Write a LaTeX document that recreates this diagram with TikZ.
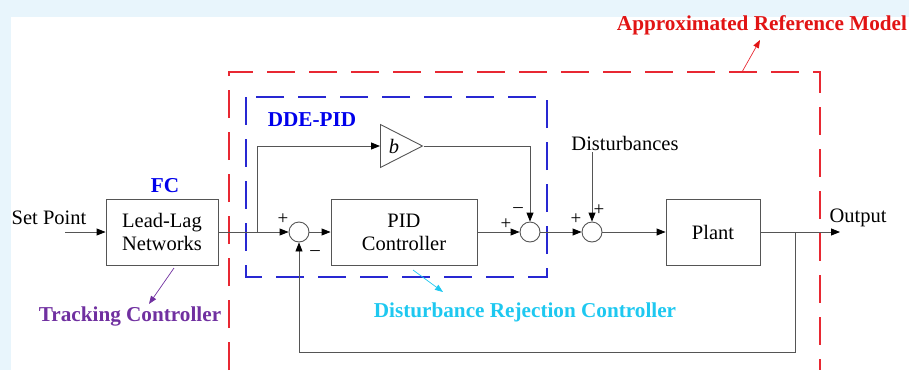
\documentclass[tikz,border=0pt]{standalone}
\usepackage{fontspec}
\setmainfont{Liberation Serif}
\usetikzlibrary{arrows.meta,shapes.geometric}
\definecolor{bgblue}{RGB}{232,245,252}
\definecolor{linegray}{RGB}{85,85,85}
\definecolor{redbox}{RGB}{232,40,50}
\definecolor{redtxt}{RGB}{225,20,20}
\definecolor{bluebox}{RGB}{40,40,210}
\definecolor{bluetxt}{RGB}{0,0,235}
\definecolor{purptxt}{RGB}{112,48,160}
\definecolor{cyantxt}{RGB}{30,200,240}
\tikzset{
  blk/.style={draw=linegray, line width=0.9pt, minimum width=#1, minimum height=66, inner sep=0pt, align=center, font=\fontsize{20.5}{23}\selectfont},
  sumc/.style={draw=linegray, line width=0.9pt, circle, minimum size=20, inner sep=0pt},
  wire/.style={draw=linegray, line width=0.9pt},
  arr/.style={wire, -{Triangle[length=9,width=7,color=black]}},
  txt/.style={font=\fontsize{20.5}{23}\selectfont, inner sep=0pt},
  btxt/.style={font=\fontsize{21.2}{24}\selectfont\bfseries, inner sep=0pt},
  sgn/.style={font=\fontsize{19}{19}\selectfont, inner sep=0pt},
  dashbox/.style={line width=2pt, dash pattern=on 28 off 14},
  lblarr/.style={line width=0.7pt, -{Triangle[length=8,width=6]}},
}
\begin{document}
\begin{tikzpicture}[x=1pt,y=-1pt]
\useasboundingbox (0,0) rectangle (909,370);
\fill[bgblue] (0,0) rectangle (909,17);
\fill[bgblue] (0,0) rectangle (11,370);
% dashed boxes
\draw[dashbox, redbox] (229,370) -- (229,72) -- (820,72) -- (820,370);
\draw[dashbox, bluebox] (246,97) rectangle (547,277);
% labels
\node[btxt, text=redtxt] (arm) at (762,25) {Approximated Reference Model};
\node[btxt, text=bluetxt] (dde) at (312,120) {DDE-PID};
\node[btxt, text=bluetxt] (fc) at (165,186) {FC};
\node[btxt, text=purptxt] (tc) at (130,316) {Tracking Controller};
\node[btxt, text=cyantxt] (drc) at (525,312) {Disturbance Rejection Controller};
% blocks
\node[txt] (sp) at (49,218) {Set Point};
\node[blk=112] (ll) at (162,232) {Lead-Lag\\Networks};
\node[sumc] (s1) at (299,232) {};
\node[blk=146] (pid) at (404,232) {PID\\Controller};
\node[sumc] (s2) at (530,232) {};
\node[sumc] (s3) at (592,232) {};
\node[blk=94] (plant) at (713,232) {Plant};
\node[draw=linegray, line width=0.9pt, isosceles triangle, isosceles triangle stretches, shape border rotate=0, minimum width=43, minimum height=42, inner sep=0pt, anchor=west] (tri) at (380,146) {};
\node[txt, font=\fontsize{20.5}{23}\selectfont\itshape] (bl) at (394,146) {b};
\node[txt] (dist) at (625,143) {Disturbances};
\node[txt] (out) at (858,218) {Output};
% signs
\node[sgn] (p1) at (283,219) {+};
\node[sgn] (m1) at (315,253) {\textendash};
\node[sgn] (p2) at (506,224) {+};
\node[sgn] (m2) at (518,210) {\textendash};
\node[sgn] (p3) at (576,219) {+};
\node[sgn] (p4) at (599,210) {+};
% coordinates
\coordinate (spin) at (65,232);
\coordinate (br1) at (257,232);
\coordinate (outend) at (840,232);
\coordinate (fb) at (795,232);
\coordinate (fbb) at (795,352);
\coordinate (armfrom) at (742,72);
\coordinate (armto) at (760,40);
\coordinate (tcfrom) at (174,268);
\coordinate (tcto) at (149,304);
\coordinate (drcfrom) at (413,270);
\coordinate (drcto) at (443,292);
% connectors
\draw[arr] (spin) -- (ll.west);
\draw[arr] (ll.east) -- (s1.west);
\draw[arr] (br1) |- (tri.west);
\draw[arr] (tri.east) -| (s2.north);
\draw[arr] (s1.east) -- (pid.west);
\draw[arr] (pid.east) -- (s2.west);
\draw[arr] (s2.east) -- (s3.west);
\draw[arr] (s3.east) -- (plant.west);
\draw[arr] (s3 |- dist.south) ++(0,2) -- (s3.north);
\draw[arr] (plant.east) -- (outend);
\draw[arr] (fb) -- (fbb) -| (s1.south);
% label arrows
\draw[lblarr, redbox, -{Triangle[length=8,width=6,color=redtxt]}] (armfrom) -- (armto);
\draw[lblarr, purptxt] (tcfrom) -- (tcto);
\draw[lblarr, cyantxt] (drcfrom) -- (drcto);
\end{tikzpicture}
\end{document}
